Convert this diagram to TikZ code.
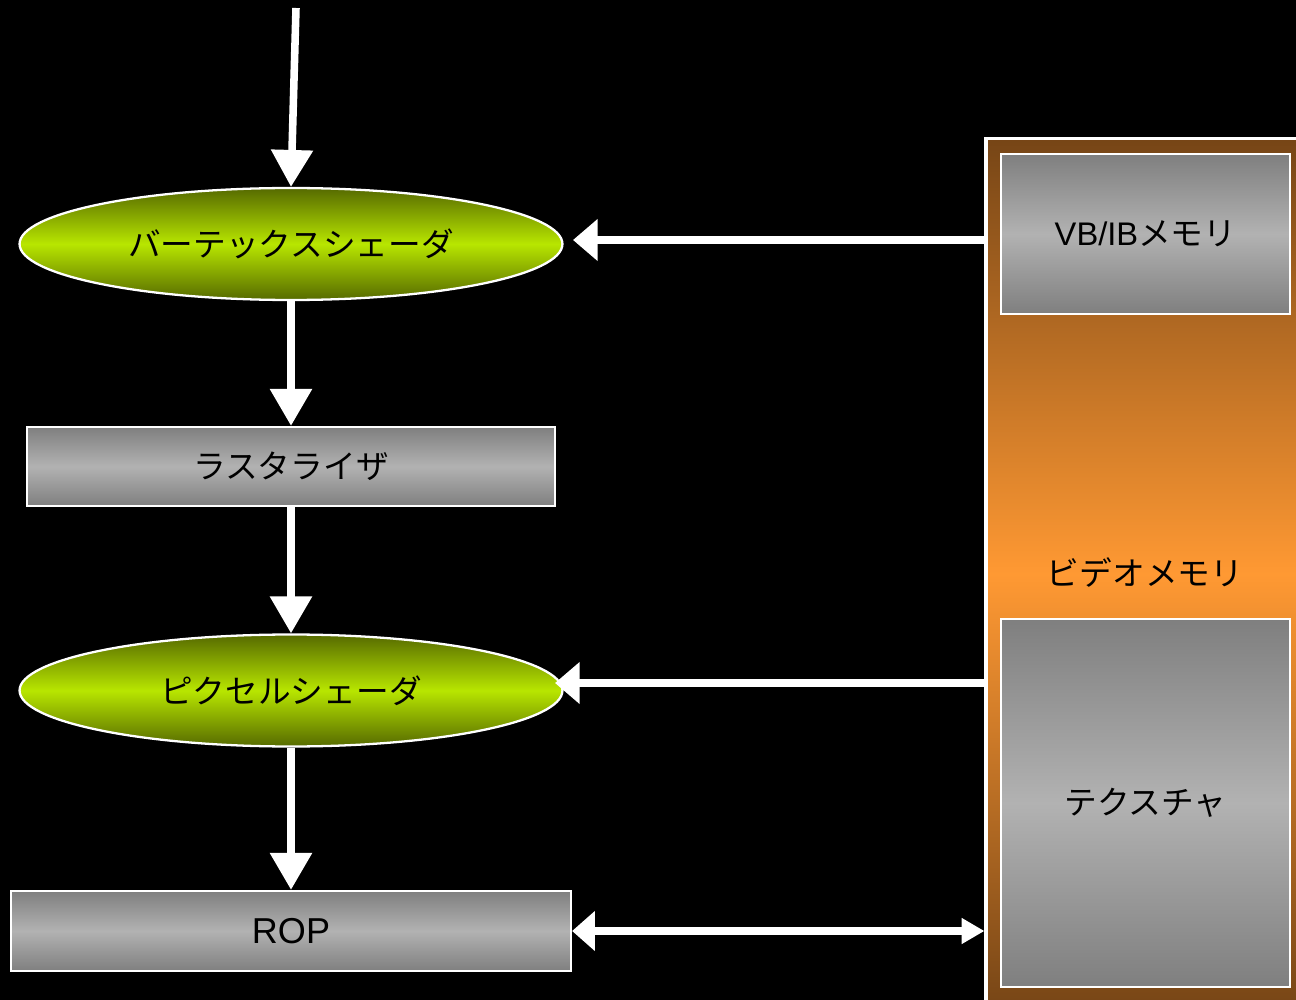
\documentclass[tikz,border=0pt]{standalone}
\usepackage{fontspec}
\setmainfont{Liberation Sans}
\newfontfamily\jp{Noto Sans CJK JP}
\usetikzlibrary{shapes.geometric,arrows.meta}
\definecolor{olivedk}{HTML}{566A00}
\definecolor{limeg}{HTML}{B8E600}
\definecolor{grayA}{HTML}{7F7F7F}
\definecolor{grayB}{HTML}{B2B2B2}
\definecolor{brownA}{HTML}{764516}
\definecolor{orangeB}{HTML}{FF9933}
\newcommand\lowtxt[1]{\raisebox{-1.6pt}{#1}}
\begin{document}
\begin{tikzpicture}[x=0.02cm,y=-0.02cm,
  txt/.style={font=\fontsize{18.6}{22}\selectfont, text=black},
  shader/.style={ellipse, draw=white, line width=1.3pt, top color=olivedk, bottom color=olivedk, middle color=limeg,
    minimum width=10.86cm, minimum height=2.24cm, inner sep=0pt, txt},
  graybox/.style={rectangle, draw=white, line width=1.3pt, top color=grayA, bottom color=grayA, middle color=grayB,
    inner sep=0pt, txt},
  panel/.style={rectangle, draw=white, line width=1.8pt, top color=brownA, bottom color=brownA, middle color=orangeB,
    inner sep=0pt},
  arr/.style={white, line width=4.3pt, -{Triangle[width=23pt,length=21pt]}},
  harr/.style={white, line width=4.3pt, -{Triangle[width=23pt,length=14pt]}},
  darr/.style={white, line width=4.3pt, {Triangle[width=22pt,length=13pt]}-{Triangle[width=14pt,length=13pt]}}
]
\clip (0,0) rectangle (1296,1000);
\fill[black] (0,0) rectangle (1296,1000);

% video memory panel
\node[panel, minimum width=6.4cm, minimum height=17.44cm] (vram) at (1146,574) {};
\node[graybox, minimum width=5.78cm, minimum height=3.2cm] (vbib) at (1145.5,234) {\lowtxt{VB/IB{\jp メモリ}}};
\node[graybox, minimum width=5.78cm, minimum height=7.36cm] (tex) at (1145.5,803) {\lowtxt{\jp テクスチャ}};
\node[txt] (vramlabel) at (1145,573) {\lowtxt{\jp ビデオメモリ}};

% pipeline
\node[shader] (vs) at (291,244) {\lowtxt{\jp バーテックスシェーダ}};
\node[graybox, minimum width=10.56cm, minimum height=1.58cm] (rast) at (291,466.5) {\lowtxt{\jp ラスタライザ}};
\node[shader] (ps) at (291,690.5) {\lowtxt{\jp ピクセルシェーダ}};
\node[graybox, minimum width=11.2cm, minimum height=1.6cm, font=\fontsize{20.5}{24}\selectfont] (rop) at (291,931) {ROP};

% connectors
\coordinate (start) at (296,8);
\draw[arr] (start) -- (vs.north);
\draw[arr] (vs.south) -- (rast.north);
\draw[arr] (rast.south) -- (ps.north);
\draw[arr] (ps.south) -- (rop.north);

\coordinate (vsin) at (573,240);
\coordinate (psin) at (555,683);
\draw[harr] (vram.west |- vsin) -- (vsin);
\draw[harr] (vram.west |- psin) -- (psin);
\draw[darr] (rop.east) -- (vram.west |- rop.east);
\end{tikzpicture}
\end{document}
